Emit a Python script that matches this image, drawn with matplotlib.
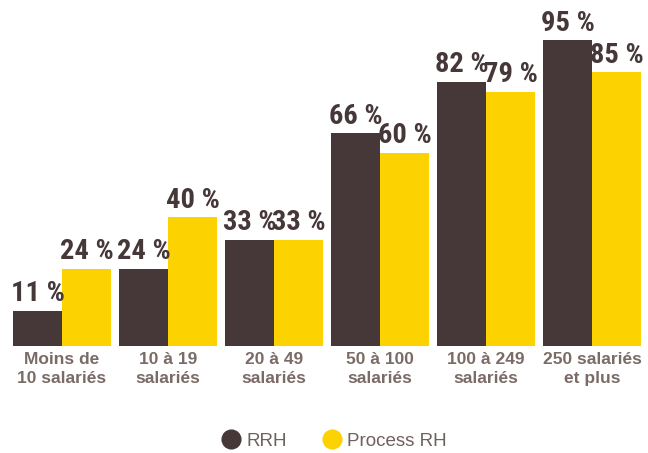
import numpy as np
import matplotlib.pyplot as plt
from matplotlib.lines import Line2D

categories = ['Moins de\n10 salariés', '10 à 19\nsalariés', '20 à 49\nsalariés',
              '50 à 100\nsalariés', '100 à 249\nsalariés', '250 salariés\net plus']
rrh = [11, 24, 33, 66, 82, 95]
process_rh = [24, 40, 33, 60, 79, 85]
series_names = ['RRH', 'Process RH']

DARK = '#463839'
YELLOW = '#fcd200'
TICK_COLOR = '#7b6b67'
LEGEND_COLOR = '#6e6260'
LABEL_FONT = ['Roboto Condensed', 'Barlow Condensed', 'DejaVu Sans']
TEXT_FONT = ['Liberation Sans', 'DejaVu Sans']


def main():
    fig = plt.figure(figsize=(6.48, 4.53), dpi=100)
    ax = fig.add_axes([9 / 648, (453 - 346) / 453, 636 / 648, 322 / 453])

    x = np.arange(len(categories))
    w = 0.462

    bars1 = ax.bar(x - w / 2, rrh, width=w, color=DARK)
    bars2 = ax.bar(x + w / 2, process_rh, width=w, color=YELLOW)

    for bars, vals in ((bars1, rrh), (bars2, process_rh)):
        for b, v in zip(bars, vals):
            ax.text(b.get_x() + b.get_width() / 2, v + 1.1, f'{v} %',
                    ha='center', va='bottom', fontsize=20.5, fontweight='bold',
                    color=DARK, family=LABEL_FONT)

    ax.set_xlim(-0.5, len(categories) - 0.5)
    ax.set_ylim(0, 100)
    ax.set_xticks(x)
    ax.set_xticklabels(categories, fontsize=12.5, fontweight='bold', color=TICK_COLOR,
                       family=TEXT_FONT, linespacing=1.35)
    ax.tick_params(axis='x', length=0, pad=4.5)
    ax.set_yticks([])
    for s in ax.spines.values():
        s.set_visible(False)

    handles = [Line2D([], [], marker='o', linestyle='none', markersize=13.5,
                      markerfacecolor=c, markeredgecolor=c) for c in (DARK, YELLOW)]
    fig.legend(handles, series_names, loc='center', bbox_to_anchor=(0.516, 0.026),
               ncol=2, frameon=False, handlelength=1.0, handletextpad=0.3,
               columnspacing=1.9, prop={'family': TEXT_FONT, 'size': 13.5},
               labelcolor=LEGEND_COLOR)

    fig.savefig('out.png', dpi=100)


if __name__ == "__main__":
    main()
